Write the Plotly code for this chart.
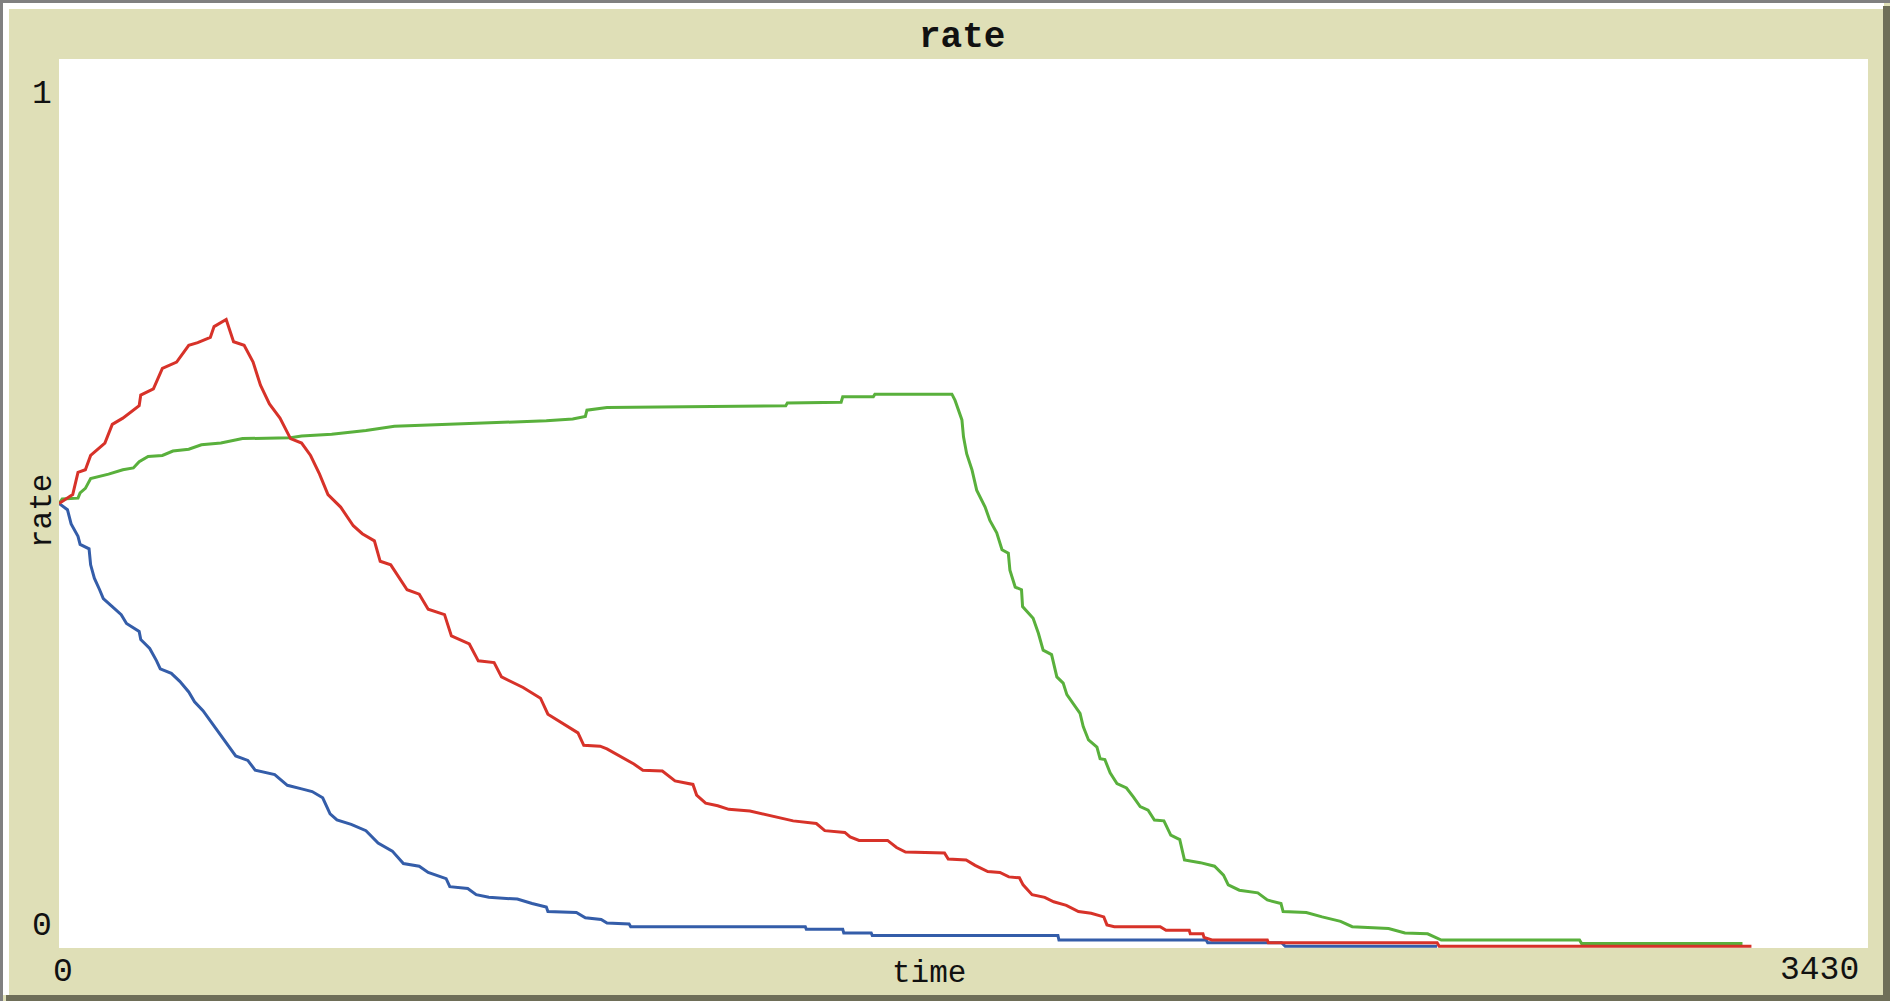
import plotly.graph_objects as go

# ---- data (time, rate) ----
x_range = [0, 3430]
y_range = [0, 1]

red_time = [
    0, 26, 36, 50, 60, 87, 101, 121, 152, 155,
    179, 196, 223, 246, 263, 287, 294, 317, 331, 351,
    368, 382, 399, 419, 439, 460, 477, 494, 510, 534,
    558, 575, 598, 609, 629, 660, 683, 700, 731, 744,
    778, 795, 825, 839, 880, 913, 927, 954, 984, 995,
    1026, 1039, 1066, 1090, 1107, 1144, 1168, 1202, 1209, 1226,
    1249, 1270, 1310, 1341, 1371, 1392, 1436, 1452, 1490, 1500,
    1517, 1571, 1588, 1605, 1679, 1686, 1720, 1737, 1761, 1784,
    1801, 1821, 1828, 1845, 1869, 1886, 1910, 1933, 1957, 1981,
    1987, 2001, 2088, 2095, 2099, 2143, 2145, 2169, 2171, 2186,
    2291, 2293, 2613, 2617, 3209,
]
red_rate = [
    0.500, 0.510, 0.535, 0.538, 0.554, 0.568, 0.589, 0.596, 0.610, 0.622,
    0.629, 0.652, 0.659, 0.678, 0.681, 0.687, 0.699, 0.707, 0.682, 0.678,
    0.659, 0.633, 0.612, 0.596, 0.573, 0.568, 0.554, 0.533, 0.510, 0.496,
    0.475, 0.466, 0.458, 0.435, 0.431, 0.403, 0.398, 0.381, 0.375, 0.351,
    0.342, 0.323, 0.321, 0.305, 0.293, 0.281, 0.263, 0.253, 0.242, 0.228,
    0.227, 0.224, 0.215, 0.207, 0.200, 0.199, 0.188, 0.184, 0.172, 0.163,
    0.160, 0.156, 0.154, 0.150, 0.146, 0.143, 0.140, 0.132, 0.130, 0.125,
    0.121, 0.121, 0.113, 0.108, 0.107, 0.100, 0.099, 0.093, 0.086, 0.085,
    0.080, 0.079, 0.071, 0.060, 0.057, 0.052, 0.048, 0.041, 0.039, 0.035,
    0.026, 0.024, 0.024, 0.022, 0.020, 0.020, 0.016, 0.016, 0.012, 0.009,
    0.009, 0.006, 0.006, 0.002, 0.002,
]

green_time = [
    0, 6, 36, 40, 50, 60, 94, 121, 141, 152,
    169, 196, 216, 246, 270, 307, 348, 439, 460, 517,
    582, 636, 778, 924, 974, 998, 1001, 1039, 1378, 1381,
    1483, 1486, 1544, 1547, 1693, 1699, 1712, 1715, 1721, 1731,
    1740, 1756, 1765, 1778, 1788, 1800, 1803, 1813, 1825, 1827,
    1847, 1857, 1866, 1882, 1892, 1904, 1911, 1923, 1936, 1942,
    1952, 1968, 1974, 1983, 1993, 2006, 2024, 2037, 2050, 2065,
    2077, 2095, 2108, 2125, 2134, 2164, 2191, 2208, 2217, 2238,
    2273, 2291, 2317, 2321, 2365, 2395, 2430, 2452, 2521, 2552,
    2595, 2621, 2883, 2887, 3192,
]
green_rate = [
    0.500, 0.505, 0.506, 0.512, 0.517, 0.528, 0.533, 0.538, 0.540, 0.547,
    0.553, 0.554, 0.559, 0.561, 0.566, 0.568, 0.573, 0.574, 0.576, 0.578,
    0.582, 0.587, 0.590, 0.593, 0.595, 0.598, 0.605, 0.608, 0.610, 0.613,
    0.614, 0.620, 0.620, 0.623, 0.623, 0.616, 0.594, 0.575, 0.556, 0.538,
    0.515, 0.496, 0.481, 0.467, 0.448, 0.444, 0.425, 0.406, 0.403, 0.384,
    0.371, 0.354, 0.335, 0.330, 0.305, 0.298, 0.285, 0.275, 0.264, 0.249,
    0.234, 0.226, 0.213, 0.212, 0.197, 0.185, 0.180, 0.170, 0.159, 0.155,
    0.144, 0.143, 0.127, 0.122, 0.099, 0.096, 0.092, 0.082, 0.071, 0.065,
    0.062, 0.054, 0.050, 0.041, 0.040, 0.035, 0.030, 0.024, 0.022, 0.017,
    0.016, 0.009, 0.009, 0.005, 0.005,
]

blue_time = [
    0, 16, 23, 36, 40, 57, 60, 67, 77, 84,
    101, 118, 128, 152, 155, 172, 185, 192, 213, 229,
    246, 257, 273, 290, 307, 324, 335, 358, 372, 409,
    433, 460, 480, 500, 514, 527, 554, 582, 605, 632,
    653, 683, 700, 734, 741, 775, 791, 815, 869, 897,
    924, 927, 981, 998, 1028, 1039, 1081, 1084, 1415, 1417,
    1486, 1488, 1540, 1542, 1894, 1896, 2175, 2178, 2318, 2325,
    2613,
]
blue_rate = [
    0.500, 0.493, 0.477, 0.463, 0.454, 0.449, 0.431, 0.416, 0.403, 0.393,
    0.384, 0.375, 0.365, 0.356, 0.347, 0.337, 0.323, 0.314, 0.309, 0.300,
    0.288, 0.277, 0.267, 0.253, 0.239, 0.225, 0.216, 0.211, 0.200, 0.195,
    0.183, 0.179, 0.176, 0.169, 0.151, 0.144, 0.139, 0.132, 0.118, 0.109,
    0.095, 0.092, 0.085, 0.078, 0.069, 0.067, 0.060, 0.057, 0.055, 0.050,
    0.046, 0.041, 0.040, 0.034, 0.032, 0.028, 0.027, 0.024, 0.024, 0.021,
    0.021, 0.017, 0.017, 0.014, 0.014, 0.009, 0.009, 0.006, 0.006, 0.002,
    0.002,
]

x_tick_labels = ["0", "3430"]
y_tick_labels = ["0", "1"]

# ---- page geometry (pixels) ----
W, H = 1890, 1001
PL, PR, PT, PB = 59, 1868, 59, 948
BEIGE = "#DFDFB7"
MONO = "Liberation Mono, Courier New, monospace"


def paper_x(px):
    return (px - PL) / (PR - PL)


def paper_y(py):
    return (PB - py) / (PB - PT)


fig = go.Figure()
for name, xs, ys, color in [
    ("green", green_time, green_rate, "#59B03C"),
    ("blue", blue_time, blue_rate, "#345DA9"),
    ("red", red_time, red_rate, "#D73229"),
]:
    fig.add_trace(
        go.Scatter(
            x=xs, y=ys, mode="lines", name=name,
            line={"color": color, "width": 3},
            hovertemplate="time=%{x}<br>rate=%{y:.3f}<extra></extra>",
        )
    )

# window frame: grey/white highlight top-left, dark shadow bottom-right
frame = [
    (0, 0, W, 3, "#808080"),
    (0, 0, 3, H, "#808080"),
    (3, 3, W - 6, 9, "#FFFFFF"),
    (3, 3, 9, H - 6, "#FFFFFF"),
    (W - 7, 6, W, H, "#6E6E58"),
    (6, H - 6, W, H, "#6E6E58"),
]
shapes = []
for x0, y0, x1, y1, c in frame:
    shapes.append({
        "type": "rect", "xref": "paper", "yref": "paper",
        "x0": paper_x(x0), "x1": paper_x(x1),
        "y0": paper_y(y1), "y1": paper_y(y0),
        "fillcolor": c, "line": {"width": 0}, "layer": "above",
    })

annotations = [
    {"text": "<b>rate</b>", "x": paper_x(962), "y": paper_y(37),
     "font": {"size": 36, "family": MONO, "color": "#111111"}},
    {"text": "time", "x": paper_x(929), "y": paper_y(973),
     "font": {"size": 31, "family": MONO, "color": "#111111"}},
    {"text": "rate", "x": paper_x(42), "y": paper_y(511), "textangle": -90,
     "font": {"size": 31, "family": MONO, "color": "#111111"}},
    {"text": y_tick_labels[1], "x": paper_x(42), "y": paper_y(94),
     "font": {"size": 33, "family": MONO, "color": "#111111"}},
    {"text": y_tick_labels[0], "x": paper_x(42), "y": paper_y(926),
     "font": {"size": 33, "family": MONO, "color": "#111111"}},
    {"text": x_tick_labels[0], "x": paper_x(63), "y": paper_y(972),
     "font": {"size": 33, "family": MONO, "color": "#111111"}},
    {"text": x_tick_labels[1], "x": paper_x(1861), "y": paper_y(971), "xanchor": "right",
     "font": {"size": 33, "family": MONO, "color": "#111111"}},
]
for a in annotations:
    a.setdefault("xanchor", "center")
    a.update({"xref": "paper", "yref": "paper", "yanchor": "middle", "showarrow": False})

fig.update_layout(
    width=W,
    height=H,
    margin={"l": PL, "r": W - PR, "t": PT, "b": H - PB, "pad": 0},
    paper_bgcolor=BEIGE,
    plot_bgcolor="#ffffff",
    showlegend=False,
    shapes=shapes,
    annotations=annotations,
    xaxis={"range": x_range, "visible": False, "fixedrange": True},
    yaxis={"range": y_range, "visible": False, "fixedrange": True},
)

fig.write_html(
    "out.html",
    config={"displayModeBar": False},
    post_script="document.body.style.margin='0';document.body.style.overflow='hidden';",
)
